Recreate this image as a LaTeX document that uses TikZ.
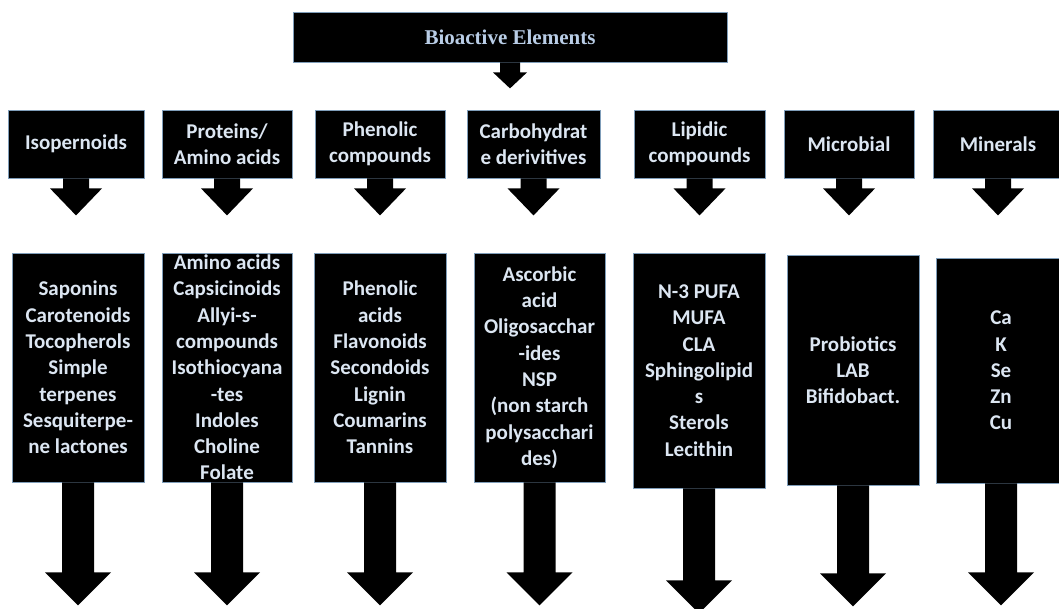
\documentclass[tikz,border=0pt]{standalone}
\usepackage{fontspec}
\setsansfont{Carlito}
\newfontfamily\titlefont{Liberation Serif}
\usetikzlibrary{calc}
\definecolor{txtc}{HTML}{DCE6F2}
\definecolor{titc}{HTML}{B9CDE6}
\definecolor{edgec}{HTML}{7F9DB9}
\tikzset{
  box/.style={draw=edgec, line width=0.8pt, fill=black, inner sep=0pt},
  lbl/.style={text=txtc, align=center, inner sep=0pt, font=\sffamily\bfseries\fontsize{21}{26.3}\selectfont},
  tlbl/.style={text=titc, align=center, inner sep=0pt, font=\titlefont\bfseries\fontsize{21}{26}\selectfont},
  arrowfill/.style={fill=black}
}
\newcommand\blockarr[5]{%
  \fill[arrowfill] ($(#1.south)+(-#2,0)$) -- ($(#1.south)+(-#2,#4)$) -- ($(#1.south)+(-#3,#4)$)
   -- ($(#1.south)+(0,#5)$) -- ($(#1.south)+(#3,#4)$) -- ($(#1.south)+(#2,#4)$) -- ($(#1.south)+(#2,0)$) -- cycle;}
\begin{document}
\begin{tikzpicture}[x=1pt,y=-1pt]
\useasboundingbox[fill=white] (0,0) rectangle (1059,608);
% title
\node[box, minimum width=434, minimum height=50] (top) at (510,37) {};
\node[tlbl] (toptxt) at (top.center) {Bioactive Elements};
\blockarr{top}{10}{17}{10}{26}
% row 1
\foreach \n/\x/\w/\t in {
  c1/76/136/{Isopernoids},
  c2/227/130/{Proteins/\\Amino acids},
  c3/380/130/{Phenolic\\compounds},
  c4/533.5/133/{Carbohydrat\\e derivitives},
  c5/699.5/131/{Lipidic\\compounds},
  c6/849/130/{Microbial},
  c7/998/130/{Minerals}}{
  \node[box, minimum width=\w, minimum height=68] (\n) at (\x,144) {};
  \node[lbl] (\n t) at (\n.center) {\t};
  \blockarr{\n}{13}{26}{10}{37}
}
% row 2
\foreach \n/\x/\y/\w/\h/\o/\tp/\t in {
  d1/78/367.5/132/229/90/123/{Saponins\\Carotenoids\\Tocopherols\\Simple\\terpenes\\Sesquiterpe-\\ne lactones},
  d2/227/367.5/130/229/90/123/{Amino acids\\Capsicinoids\\Allyi-s-\\compounds\\Isothiocyana\\-tes\\Indoles\\Choline\\Folate},
  d3/380/367.5/132/229/90/123/{Phenolic\\acids\\Flavonoids\\Secondoids\\Lignin\\Coumarins\\Tannins},
  d4/539.5/367.5/131/229/90/123/{Ascorbic\\acid\\Oligosacchar\\-ides\\NSP\\(non starch\\polysacchari\\des)},
  d5/699/370.5/132/235/92/125/{N-3 PUFA\\MUFA\\CLA\\Sphingolipid\\s\\Sterols\\Lecithin},
  d6/853/370/132/230/88/121/{Probiotics\\LAB\\Bifidobact.},
  d7/1001/370.5/130/225/89/122/{Ca\\K\\Se\\Zn\\Cu}}{
  \node[box, minimum width=\w, minimum height=\h] (\n) at (\x,\y) {};
  \blockarr{\n}{16}{33}{\o}{\tp}
  \node[lbl] (\n t) at (\n.center) {\t};
}
\end{tikzpicture}
\end{document}
